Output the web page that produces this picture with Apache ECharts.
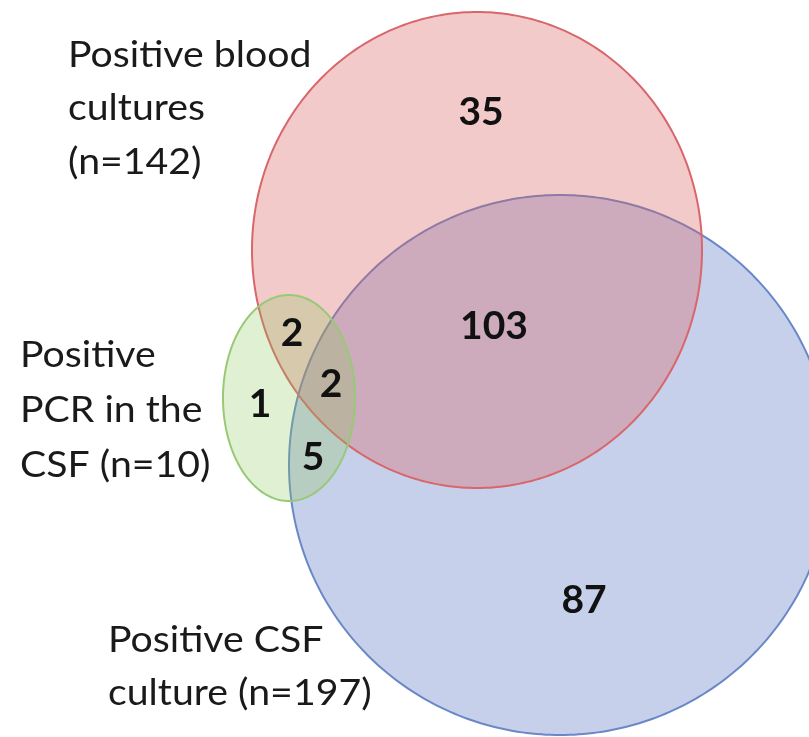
<!DOCTYPE html>
<html><head><meta charset="utf-8">
<script src="https://cdn.jsdelivr.net/npm/echarts@6/dist/echarts.min.js"></script>
<style>html,body{margin:0;padding:0;background:#fff}#c{width:809px;height:737px}</style>
</head><body><div id="c"></div>
<script>
// ---- data ----
const setNames = ['Positive CSF culture', 'Positive blood cultures', 'Positive PCR in the CSF'];
const setSizes = [197, 142, 10];
const setLabelLines = [
  ['Positive CSF', 'culture (n=' + setSizes[0] + ')'],
  ['Positive blood', 'cultures', '(n=' + setSizes[1] + ')'],
  ['Positive', 'PCR in the', 'CSF (n=' + setSizes[2] + ')']
];
const regionNames = ['Blood only', 'Blood & CSF culture', 'CSF culture only', 'PCR only', 'PCR & blood', 'PCR & blood & CSF culture', 'PCR & CSF culture'];
const regionCounts = [35, 103, 87, 1, 2, 2, 5];

// ---- layout (in a 809 x 737 data space) ----
const setShapes = [[560, 465, 271, 270], [477, 250, 225, 238], [289, 398, 66, 103]]; // cx, cy, rx, ry
const setFills = ['rgba(70,100,185,0.30)', 'rgba(218,95,95,0.33)', 'rgba(140,200,90,0.27)'];
const setStrokes = ['#6a88c8', '#d8666b', '#98c977'];
const setLabelPos = [[108, 640, 53], [68, 55, 53.5], [20, 355, 55]]; // left x, first line center y, line height
const regionPos = [[481, 112], [494, 326], [584, 600], [260, 404], [292, 333], [331, 384], [313, 457]];

const FONT = 'Lato, "Open Sans", sans-serif';
const chart = echarts.init(document.getElementById('c'), null, {renderer: 'canvas'});

chart.setOption({
  animation: false,
  backgroundColor: '#fff',
  grid: {left: 0, right: 0, top: 0, bottom: 0},
  xAxis: {type: 'value', min: 0, max: 809, show: false},
  yAxis: {type: 'value', min: 0, max: 737, inverse: true, show: false},
  series: [
    {
      type: 'custom', name: 'sets', clip: false,
      data: setShapes.map((s, i) => ({name: setNames[i], value: [s[0], s[1], s[2], s[3]]})),
      renderItem: function (params, api) {
        const c = api.coord([api.value(0), api.value(1)]);
        const sz = api.size([api.value(2), api.value(3)]);
        const pts = [];
        for (let k = 0; k < 360; k++) {
          const a = k * Math.PI / 180;
          pts.push([c[0] + sz[0] * Math.cos(a), c[1] + sz[1] * Math.sin(a)]);
        }
        const i = params.dataIndex;
        return {type: 'polygon', shape: {points: pts},
          style: {fill: setFills[i], stroke: setStrokes[i], lineWidth: 2}};
      }
    },
    {
      type: 'custom', name: 'setLabels', clip: false,
      data: setLabelPos.map((p, i) => [p[0], p[1]]),
      renderItem: function (params, api) {
        const i = params.dataIndex;
        const c = api.coord([api.value(0), api.value(1)]);
        const lh = setLabelPos[i][2];
        return {type: 'group', children: setLabelLines[i].map((t, j) => ({
          type: 'text', x: c[0], y: c[1] + j * lh, scaleX: 1.09,
          style: {text: t, font: '36px ' + FONT, fill: '#1a1a1a', align: 'left', verticalAlign: 'middle'}
        }))};
      }
    },
    {
      type: 'custom', name: 'regions', clip: false,
      data: regionPos.map((p, i) => ({name: regionNames[i], value: [p[0], p[1], regionCounts[i]]})),
      renderItem: function (params, api) {
        const c = api.coord([api.value(0), api.value(1)]);
        return {type: 'text', x: c[0], y: c[1],
          style: {text: String(api.value(2)), font: 'bold 39px ' + FONT, fill: '#111', align: 'center', verticalAlign: 'middle'}};
      }
    }
  ]
});
</script></body></html>
